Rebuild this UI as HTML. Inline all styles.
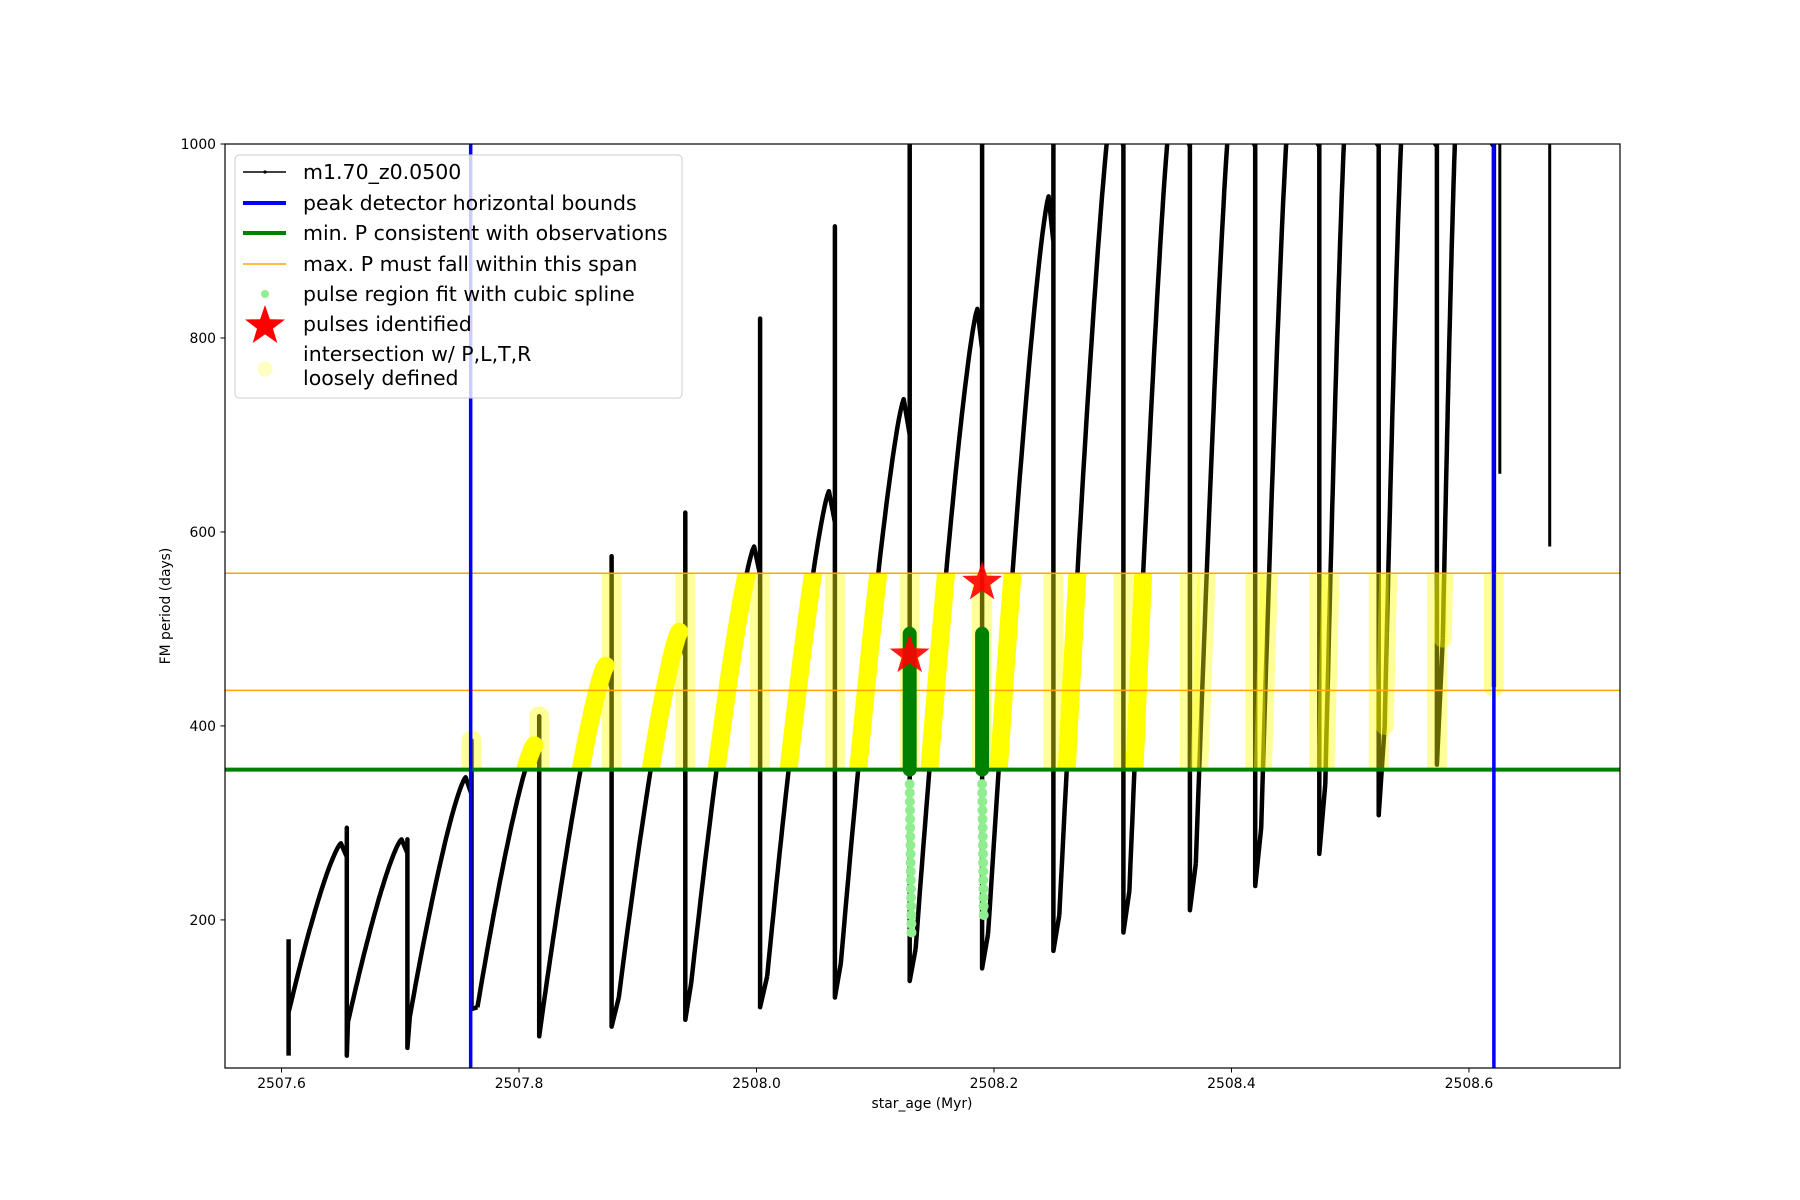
<!DOCTYPE html>
<html><head><meta charset="utf-8"><style>
html,body{margin:0;padding:0;background:#fff;}
svg{display:block;font-family:"DejaVu Sans","Liberation Sans",sans-serif;}
</style></head><body>
<svg id="chart" width="1800" height="1200" viewBox="0 0 1800 1200" xmlns="http://www.w3.org/2000/svg">
<defs>
<clipPath id="axclip"><rect x="225" y="144" width="1395" height="924"/></clipPath>
</defs>
<g id="plot" clip-path="url(#axclip)"></g>
<rect x="225" y="144" width="1395" height="924" fill="none" stroke="#000" stroke-width="1.2"/>
<g id="ticks"></g>
<text x="922" y="1108" font-size="13.9" text-anchor="middle">star_age (Myr)</text>
<text x="170" y="606" font-size="13.9" text-anchor="middle" transform="rotate(-90 170 606)">FM period (days)</text>
<g>
<rect x="235" y="155" width="447" height="243" rx="4" fill="#fff" fill-opacity="0.8" stroke="#ccc"/>
<g><line x1="243" y1="172" x2="286" y2="172" stroke="#000" stroke-width="1.5"/><circle cx="265" cy="172" r="1.6"/><text x="303" y="179" font-size="20.5">m1.70_z0.0500</text></g>
<g><line x1="243" y1="203" x2="286" y2="203" stroke="#0000ff" stroke-width="4"/><text x="303" y="210" font-size="20.5">peak detector horizontal bounds</text></g>
<g><line x1="243" y1="233" x2="286" y2="233" stroke="#008000" stroke-width="4"/><text x="303" y="240" font-size="20.5">min. P consistent with observations</text></g>
<g><line x1="243" y1="264" x2="286" y2="264" stroke="#ffa500" stroke-width="1.5"/><text x="303" y="271" font-size="20.5">max. P must fall within this span</text></g>
<g><circle cx="265" cy="294" r="4" fill="#90ee90"/><text x="303" y="301" font-size="20.5">pulse region fit with cubic spline</text></g>
<g><path id="legstar" fill="#ff0000"/><text x="303" y="331" font-size="20.5">pulses identified</text></g>
<g><circle cx="265" cy="369" r="7.5" fill="#ffff99" fill-opacity="0.6"/><text x="303" y="361" font-size="20.5">intersection w/ P,L,T,R</text><text x="303" y="385" font-size="20.5">loosely defined</text></g>
</g>
</svg>
<script>
// ---- data ----
const cycT0 = [2507.606,2507.656,2507.708,2507.765,2507.821,2507.884,2507.945,2508.009,2508.071,2508.134,2508.195,2508.255,2508.314,2508.370,2508.425,2508.479,2508.529,2508.578];
const cycV0 = [105,95,100,110,115,120,135,142,155,170,185,205,230,258,295,340,400,490];
const cycTp = [2507.650,2507.701,2507.755,2507.813,2507.873,2507.935,2507.998,2508.061,2508.124,2508.186,2508.246,2508.300,2508.350,2508.400,2508.449,2508.497,2508.545,2508.590];
const cycVp = [279,283,347,380,462,497,585,642,737,830,946,1050,1050,1050,1050,1050,1050,1050];
const cycTd = [2507.655,2507.706,2507.760,2507.817,2507.878,2507.940,2508.003,2508.066,2508.129,2508.190,2508.250,2508.309,2508.365,2508.420,2508.474,2508.524,2508.573,2508.621];
const cycMin = [60,68,108,80,90,97,110,120,137,150,168,187,210,235,268,308,360,440];
const cycSpike = [295,283,385,410,575,620,820,915,1000,1000,1000,1000,1000,1000,1000,1000,1000,1000];
const tailT = [2508.626,2508.668];
const tailV = [660,585];
const boundsT = [2507.7593,2508.621];
const minP = 355;
const maxPLow = 436.7, maxPHigh = 557.4;
const pulseT = [2508.129,2508.190];
const pulseTop = [495,495];
const pulseLow = [180,205];
const starV = [473,548];
const xTicks = [2507.6,2507.8,2508.0,2508.2,2508.4,2508.6];
const xTickLabels = ["2507.6","2507.8","2508.0","2508.2","2508.4","2508.6"];
const yTicks = [200,400,600,800,1000];
const yTickLabels = ["200","400","600","800","1000"];
// ---- axes ----
const X0=2507.5524, X1=2508.7272, Y0=47.3, Y1=1000;
function xS(t){return 225+(t-X0)/(X1-X0)*1395;}
function yS(v){return 1068-(v-Y0)/(Y1-Y0)*924;}
const NS="http://www.w3.org/2000/svg";
const plot=document.getElementById('plot');
function mk(tag,attrs,parent){const e=document.createElementNS(NS,tag);for(const k in attrs)e.setAttribute(k,attrs[k]);(parent||plot).appendChild(e);return e;}
function starPath(cx,cy,R){const r=R*0.4;let d='';for(let i=0;i<10;i++){const a=-Math.PI/2+i*Math.PI/5;const rr=i%2?r:R;d+=(i?'L':'M')+(cx+rr*Math.cos(a)).toFixed(1)+' '+(cy+rr*Math.sin(a)).toFixed(1);}return d+'Z';}
const defs=document.querySelector('defs');
const cp=document.createElementNS(NS,'clipPath');cp.setAttribute('id','band');defs.appendChild(cp);
mk('rect',{x:xS(boundsT[0])-10,y:yS(maxPHigh),width:xS(boundsT[1])-xS(boundsT[0])+20,height:yS(minP)-yS(maxPHigh)},cp);
const blackPath=mk('path',{fill:'none',stroke:'#000','stroke-width':4.5,'stroke-linejoin':'round'});


const tailG=mk('g',{});


const yellowG=mk('g',{'clip-path':'url(#band)'});


let blackD='';
for(let i=0;i<cycT0.length;i++){
  let rise='';
  const N=40;
  for(let k=0;k<=N;k++){const s=k/N;const t=cycT0[i]+(cycTp[i]-cycT0[i])*s;const v=cycV0[i]+(cycVp[i]-cycV0[i])*(1-Math.pow(1-s,1.3));rise+=(k?'L':'M')+xS(t).toFixed(1)+' '+yS(v).toFixed(1);}
  blackD+=rise;
  blackD+='L'+xS(cycTd[i]).toFixed(1)+' '+yS(cycVp[i]*0.95).toFixed(1)+'L'+xS(cycTd[i]).toFixed(1)+' '+yS(cycSpike[i]).toFixed(1)+'L'+xS(cycTd[i]).toFixed(1)+' '+yS(cycMin[i]).toFixed(1);
  if(i+1<cycT0.length) blackD+='L'+xS(cycT0[i+1]).toFixed(1)+' '+yS(cycV0[i+1]).toFixed(1);
  if(i>=3){
    const yr=mk('path',{d:rise,fill:'none',stroke:'#ffff00','stroke-width':18,'stroke-opacity':i<=12?1:0.4,'stroke-linecap':'round'},yellowG);
    
    
  }
  if(i>=2){
    const top=Math.min(maxPHigh,cycSpike[i]), bot=Math.max(minP,cycMin[i]);
    const yd=mk('line',{x1:xS(cycTd[i]),x2:xS(cycTd[i]),y1:yS(top),y2:yS(bot),stroke:'#ffff00','stroke-width':20,'stroke-opacity':0.4,'stroke-linecap':'round'},yellowG);
    
    
  }
}
blackD+='M'+xS(cycT0[0]).toFixed(1)+' '+yS(60)+'L'+xS(cycT0[0]).toFixed(1)+' '+yS(180);
blackPath.setAttribute('d',blackD);
for(let j=0;j<tailT.length;j++){
  const tl=mk('line',{x1:xS(tailT[j]),x2:xS(tailT[j]),y1:yS(tailV[j]),y2:yS(1000),stroke:'#000','stroke-width':3},tailG);
  
  
}
const gl=mk('line',{x1:225,x2:1620,y1:yS(minP),y2:yS(minP),stroke:'#008000','stroke-width':4});


[maxPLow,maxPHigh].forEach(v=>{const o=mk('line',{x1:225,x2:1620,y1:yS(v),y2:yS(v),stroke:'#ffa500','stroke-width':1.5});

});
for(let j=0;j<pulseT.length;j++){
  for(let v=340;v>=pulseLow[j];v-=9){const c=mk('circle',{cx:xS(pulseT[j])+(340-v)*0.012,cy:yS(v),r:5,fill:'#90ee90'});
  
  }
  const g=mk('line',{x1:xS(pulseT[j]),x2:xS(pulseT[j]),y1:yS(pulseTop[j]),y2:yS(minP),stroke:'#008000','stroke-width':14,'stroke-linecap':'round'});
  
  
}
boundsT.forEach(t=>{const b=mk('line',{x1:xS(t),x2:xS(t),y1:144,y2:1068,stroke:'#0000ff','stroke-width':3.5});

});
for(let j=0;j<pulseT.length;j++){
  const s=mk('path',{d:starPath(xS(pulseT[j]),yS(starV[j]),21),fill:'#ff0000','fill-opacity':0.9});
  
  
}
document.getElementById('legstar').setAttribute('d',starPath(265,326,21));
const tg=document.getElementById('ticks');
xTicks.forEach((t,i)=>{const x=xS(t);mk('line',{x1:x,x2:x,y1:1068,y2:1072.5,stroke:'#000','stroke-width':1},tg);
const tx=mk('text',{x:x,y:1088,'font-size':13.9,'text-anchor':'middle'},tg);tx.textContent=xTickLabels[i];

});
yTicks.forEach((v,i)=>{const y=yS(v);mk('line',{x1:220.5,x2:225,y1:y,y2:y,stroke:'#000','stroke-width':1},tg);
const tx=mk('text',{x:216,y:y+5,'font-size':13.9,'text-anchor':'end'},tg);tx.textContent=yTickLabels[i];

});
</script>
</body></html>
